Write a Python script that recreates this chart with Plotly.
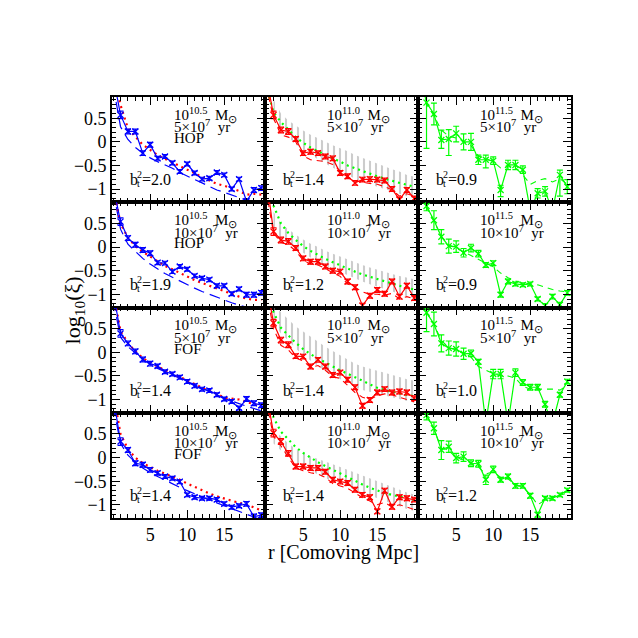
import plotly.graph_objects as go
from plotly.subplots import make_subplots

# ---------------- data ----------------
R = list(range(0, 21))          # comoving separation r [Mpc]
R_BAND = list(range(1, 21))

# column 1 : 10^10.5 Msun (blue data, red dotted = biased DM, blue dashed = DM)
c1_main = [
    [1.4, 0.57, 0.22, 0.22, -0.24, -0.06, -0.35, -0.31, -0.45, -0.63, -0.47, -0.66, -0.79, -0.77, -0.65, -0.70, -1.00, -0.79, -1.26, -1.02, -0.98],
    [1.3, 0.54, 0.19, 0.05, -0.06, -0.13, -0.33, -0.34, -0.52, -0.41, -0.47, -0.61, -0.66, -0.69, -0.82, -0.82, -0.99, -0.89, -1.01, -1.01, -0.97],
    [1.3, 0.40, 0.19, 0.02, -0.15, -0.24, -0.29, -0.41, -0.46, -0.53, -0.62, -0.71, -0.78, -0.81, -0.90, -0.99, -1.04, -1.18, -0.99, -1.08, -1.12],
    [1.3, 0.34, 0.16, -0.12, -0.15, -0.26, -0.33, -0.40, -0.44, -0.51, -0.79, -0.84, -0.86, -0.86, -0.89, -0.98, -1.05, -1.02, -0.98, -1.25, -1.22],
]
c1_err = [0.1, 0.08, 0.05, 0.05, 0.05, 0.05, 0.04, 0.04, 0.04, 0.04, 0.04, 0.04, 0.04, 0.04, 0.04, 0.04, 0.04, 0.04, 0.05, 0.05, 0.05]
c1_dot = [
    [1.5, 0.78, 0.28, 0.10, -0.06, -0.17, -0.28, -0.36, -0.44, -0.52, -0.59, -0.66, -0.75, -0.82, -0.89, -0.93, -0.98, -1.04, -1.12, -1.10, -1.12],
    [1.3, 0.50, 0.20, 0.02, -0.10, -0.20, -0.30, -0.40, -0.47, -0.55, -0.62, -0.70, -0.76, -0.82, -0.88, -0.94, -1.00, -1.05, -1.09, -1.12, -1.12],
    [1.3, 0.45, 0.20, 0.02, -0.12, -0.22, -0.30, -0.38, -0.45, -0.52, -0.60, -0.68, -0.75, -0.82, -0.88, -0.96, -0.98, -1.00, -1.05, -1.10, -1.15],
    [1.4, 0.50, 0.18, 0.00, -0.12, -0.20, -0.28, -0.34, -0.40, -0.47, -0.55, -0.62, -0.70, -0.76, -0.82, -0.87, -0.92, -0.96, -0.99, -1.05, -1.12],
]
c1_dash = [
    [1.2, 0.32, 0.05, -0.12, -0.24, -0.34, -0.42, -0.49, -0.56, -0.65, -0.73, -0.80, -0.87, -0.95, -1.02, -1.07, -1.12, -1.18, -1.24, -1.30, -1.35],
    [1.2, 0.38, 0.06, -0.10, -0.24, -0.36, -0.46, -0.56, -0.64, -0.72, -0.80, -0.87, -0.94, -1.00, -1.07, -1.13, -1.18, -1.23, -1.28, -1.33, -1.36],
    [1.1, 0.32, 0.12, -0.02, -0.15, -0.25, -0.34, -0.41, -0.48, -0.55, -0.62, -0.69, -0.76, -0.84, -0.91, -0.97, -1.03, -1.09, -1.14, -1.19, -1.24],
    [1.1, 0.30, 0.05, -0.10, -0.22, -0.32, -0.40, -0.48, -0.56, -0.63, -0.70, -0.77, -0.84, -0.90, -0.96, -1.02, -1.08, -1.14, -1.20, -1.26, -1.32],
]

# column 2 : 10^11.0 Msun (red data, red dashed, green dotted, grey band)
c2_main = [
    [1.4, 0.57, 0.25, 0.22, 0.06, -0.24, -0.21, -0.24, -0.31, -0.35, -0.66, -0.73, -0.87, -0.80, -0.79, -0.80, -0.82, -1.00, -1.22, -1.02, -1.20],
    [1.5, 0.33, 0.15, 0.12, -0.02, -0.24, -0.31, -0.31, -0.41, -0.50, -0.52, -0.73, -0.85, -1.24, -1.03, -0.91, -0.99, -0.73, -1.05, -0.82, -1.08],
    [1.5, 0.62, 0.26, 0.16, -0.08, -0.09, -0.30, -0.16, -0.30, -0.48, -0.43, -0.58, -0.74, -1.13, -1.01, -0.85, -0.78, -0.85, -0.83, -0.85, -0.97],
    [1.4, 0.52, 0.34, 0.09, -0.19, -0.19, -0.22, -0.22, -0.30, -0.47, -0.51, -0.54, -0.68, -0.79, -0.84, -1.14, -0.70, -1.04, -0.84, -0.86, -0.89],
]
c2_err = [0.1, 0.08, 0.06, 0.06, 0.05, 0.05, 0.05, 0.05, 0.05, 0.05, 0.05, 0.05, 0.05, 0.05, 0.05, 0.05, 0.05, 0.05, 0.05, 0.05, 0.05]
c2_dash = [
    [1.2, 0.50, 0.15, 0.10, 0.00, -0.30, -0.38, -0.40, -0.42, -0.48, -0.62, -0.75, -0.82, -0.86, -0.88, -0.90, -0.95, -1.02, -1.15, -1.10, -1.15],
    [1.2, 0.30, 0.10, 0.05, -0.08, -0.28, -0.36, -0.38, -0.45, -0.55, -0.62, -0.78, -0.85, -0.95, -1.00, -1.00, -1.02, -0.98, -1.10, -1.05, -1.10],
    [1.3, 0.50, 0.15, 0.05, -0.12, -0.18, -0.32, -0.28, -0.38, -0.52, -0.55, -0.70, -0.85, -0.95, -1.00, -0.92, -0.88, -0.90, -0.95, -1.00, -1.05],
    [1.2, 0.45, 0.25, 0.00, -0.22, -0.28, -0.32, -0.35, -0.42, -0.55, -0.60, -0.65, -0.75, -0.85, -0.92, -1.00, -0.95, -1.05, -1.00, -1.05, -1.10],
]
c2_dot = [
    [1.2, 0.62, 0.42, 0.25, 0.10, -0.02, -0.12, -0.20, -0.28, -0.35, -0.42, -0.50, -0.56, -0.62, -0.68, -0.73, -0.78, -0.83, -0.87, -0.91, -0.95],
    [1.5, 0.88, 0.50, 0.30, 0.15, 0.02, -0.08, -0.17, -0.25, -0.32, -0.39, -0.46, -0.52, -0.58, -0.63, -0.68, -0.73, -0.78, -0.82, -0.86, -0.90],
    [1.5, 0.85, 0.52, 0.35, 0.20, 0.07, -0.04, -0.13, -0.22, -0.30, -0.38, -0.45, -0.52, -0.60, -0.68, -0.75, -0.80, -0.84, -0.87, -0.90, -0.93],
    [1.5, 0.85, 0.55, 0.38, 0.22, 0.10, 0.00, -0.10, -0.18, -0.26, -0.34, -0.42, -0.50, -0.57, -0.64, -0.70, -0.75, -0.79, -0.83, -0.87, -0.90],
]
c2_band_hi = [
    [0.90, 0.60, 0.45, 0.34, 0.24, 0.15, 0.07, 0.00, -0.07, -0.13, -0.20, -0.28, -0.34, -0.41, -0.47, -0.53, -0.58, -0.63, -0.70, -0.74],
    [0.75, 0.50, 0.38, 0.26, 0.16, 0.07, 0.00, -0.08, -0.14, -0.20, -0.27, -0.33, -0.38, -0.43, -0.48, -0.53, -0.57, -0.61, -0.65, -0.68],
    [1.00, 0.85, 0.68, 0.55, 0.44, 0.33, 0.22, 0.12, 0.03, -0.06, -0.15, -0.24, -0.30, -0.35, -0.39, -0.43, -0.47, -0.52, -0.57, -0.60],
    [0.60, 0.45, 0.30, 0.18, 0.10, 0.03, -0.03, -0.08, -0.14, -0.20, -0.26, -0.32, -0.38, -0.44, -0.50, -0.57, -0.63, -0.68, -0.74, -0.78],
]
c2_band_lo = [
    [0.45, 0.25, 0.10, -0.05, -0.17, -0.28, -0.37, -0.46, -0.55, -0.62, -0.70, -0.78, -0.84, -0.90, -0.95, -1.00, -1.05, -1.10, -1.16, -1.20],
    [0.40, 0.20, 0.08, -0.02, -0.12, -0.22, -0.32, -0.39, -0.46, -0.53, -0.60, -0.67, -0.73, -0.79, -0.84, -0.90, -0.95, -0.99, -1.04, -1.08],
    [0.60, 0.40, 0.25, 0.08, -0.06, -0.18, -0.30, -0.40, -0.48, -0.57, -0.66, -0.74, -0.80, -0.84, -0.88, -0.92, -0.96, -1.00, -1.04, -1.07],
    [0.30, 0.15, 0.00, -0.12, -0.20, -0.28, -0.36, -0.44, -0.50, -0.56, -0.63, -0.69, -0.75, -0.81, -0.87, -0.93, -0.98, -1.03, -1.09, -1.13],
]

# column 3 : 10^11.5 Msun (green data, green dashed)
c3_main = [
    [1.5, 0.83, 0.59, 0.04, 0.06, 0.18, 0.00, 0.00, -0.38, -0.38, -0.40, -1.02, -0.49, -0.49, -0.59, -1.45, -1.09, -1.05, -1.45, -0.70, -0.95],
    [1.5, 0.87, 0.57, 0.22, 0.02, 0.01, -0.12, -0.02, -0.14, -0.38, -0.34, -1.01, -0.73, -0.78, -0.80, -0.78, -1.10, -1.24, -1.05, -1.22, -0.97],
    [1.5, 0.84, 0.60, 0.19, 0.09, 0.07, -0.03, -0.02, -0.20, -1.50, -0.46, -0.46, -1.50, -0.43, -0.64, -0.74, -0.74, -1.10, -1.50, -0.90, -0.62],
    [1.5, 0.90, 0.62, 0.16, 0.23, -0.01, 0.02, -0.12, -0.13, -0.47, -0.25, -0.47, -0.40, -0.60, -0.60, -0.81, -1.21, -0.86, -0.86, -0.79, -0.69],
]
c3_err_hi = [
    [0.3, 0.3, 0.23, 0.21, 0.20, 0.15, 0.17, 0.18, 0.10, 0.10, 0.08, 0.10, 0.10, 0.10, 0.08, 0.10, 0.10, 0.10, 0.10, 0.10, 0.15],
    [0.2, 0.10, 0.20, 0.15, 0.15, 0.12, 0.09, 0.08, 0.07, 0.05, 0.05, 0.05, 0.05, 0.04, 0.04, 0.04, 0.04, 0.04, 0.05, 0.05, 0.05],
    [0.2, 0.10, 0.25, 0.18, 0.15, 0.15, 0.12, 0.07, 0.05, 0.10, 0.10, 0.10, 0.10, 0.08, 0.06, 0.06, 0.06, 0.06, 0.06, 0.05, 0.05],
    [0.2, 0.10, 0.13, 0.20, 0.12, 0.10, 0.10, 0.07, 0.07, 0.10, 0.07, 0.05, 0.05, 0.05, 0.05, 0.05, 0.05, 0.04, 0.04, 0.04, 0.04],
]
c3_err_lo = [
    [0.3, 0.97, 0.23, 0.18, 0.35, 0.18, 0.17, 0.18, 0.10, 0.17, 0.08, 0.14, 0.10, 0.10, 0.08, 0.10, 0.10, 0.10, 0.10, 0.45, 0.15],
    [0.2, 0.10, 0.20, 0.15, 0.15, 0.12, 0.09, 0.08, 0.07, 0.05, 0.05, 0.05, 0.05, 0.04, 0.04, 0.04, 0.04, 0.04, 0.05, 0.05, 0.05],
    [0.2, 0.40, 0.25, 0.18, 0.15, 0.15, 0.12, 0.07, 0.05, 0.10, 0.10, 0.10, 0.10, 0.08, 0.06, 0.06, 0.06, 0.06, 0.06, 0.05, 0.05],
    [0.2, 0.10, 0.13, 0.20, 0.12, 0.10, 0.10, 0.07, 0.07, 0.10, 0.07, 0.05, 0.05, 0.05, 0.05, 0.05, 0.05, 0.04, 0.04, 0.04, 0.04],
]
c3_dash = [
    [1.3, 0.80, 0.55, 0.25, 0.12, 0.08, 0.00, -0.08, -0.30, -0.35, -0.42, -0.55, -0.50, -0.55, -0.70, -0.90, -0.82, -0.78, -0.85, -0.78, -0.90],
    [1.3, 0.85, 0.55, 0.22, 0.05, -0.02, -0.10, -0.18, -0.26, -0.35, -0.42, -0.55, -0.65, -0.72, -0.76, -0.78, -0.80, -0.85, -0.90, -0.93, -0.95],
    [1.3, 0.85, 0.60, 0.25, 0.10, 0.05, -0.03, -0.10, -0.30, -0.38, -0.45, -0.50, -0.50, -0.55, -0.72, -0.78, -0.78, -0.77, -0.78, -0.80, -0.70],
    [1.3, 0.88, 0.60, 0.20, 0.15, 0.00, -0.05, -0.12, -0.20, -0.35, -0.30, -0.42, -0.45, -0.58, -0.62, -0.78, -1.00, -0.90, -0.85, -0.80, -0.75],
]

col_mass = ["10.5", "11.0", "11.5"]
row_time = ["5", "10", "5", "10"]
col1_finder = ["HOP", "HOP", "FOF", "FOF"]
bias_sq = [
    ["2.0", "1.4", "0.9"],
    ["1.9", "1.2", "0.9"],
    ["1.4", "1.4", "1.0"],
    ["1.4", "1.4", "1.2"],
]
x_tick_labels = [5, 10, 15]
y_tick_labels = [-1, -0.5, 0, 0.5]

X_RANGE = [-0.15, 20.5]
Y_RANGE = [-1.28, 0.95]

BLUE = "#0000ff"
RED = "#ff0000"
GREEN = "#00ff00"
GREY = "#9a9a9a"
FONT = "Liberation Serif"

# ---------------- figure ----------------
fig = make_subplots(rows=4, cols=3, horizontal_spacing=0, vertical_spacing=0)


def data_trace(y, ep, em, color):
    return go.Scatter(
        x=R, y=y, mode="lines+markers",
        line=dict(color=color, width=1.2),
        marker=dict(symbol="x-thin", size=6, line=dict(color=color, width=1.3), color=color),
        error_y=dict(type="data", array=ep, arrayminus=em, color=color, thickness=1.2, width=3),
        showlegend=False, hoverinfo="skip",
    )


for i in range(4):
    row = i + 1
    # column 1
    fig.add_trace(go.Scatter(x=R, y=c1_dash[i], mode="lines",
                             line=dict(color=BLUE, width=1.2, dash="11px,6px"),
                             showlegend=False, hoverinfo="skip"), row=row, col=1)
    fig.add_trace(go.Scatter(x=R, y=c1_dot[i], mode="lines",
                             line=dict(color=RED, width=2.2, dash="2px,4px"),
                             showlegend=False, hoverinfo="skip"), row=row, col=1)
    fig.add_trace(data_trace(c1_main[i], c1_err, c1_err, BLUE), row=row, col=1)

    # column 2
    fig.add_trace(go.Scatter(x=R_BAND, y=c2_band_lo[i], mode="lines", line=dict(width=0),
                             showlegend=False, hoverinfo="skip"), row=row, col=2)
    fig.add_trace(go.Scatter(x=R_BAND, y=c2_band_hi[i], mode="lines", line=dict(width=0),
                             fill="tonexty", fillcolor="rgba(0,0,0,0)",
                             fillpattern=dict(shape="|", fgcolor=GREY, bgcolor="rgba(0,0,0,0)",
                                              size=6, solidity=0.35),
                             showlegend=False, hoverinfo="skip"), row=row, col=2)
    fig.add_trace(go.Scatter(x=R, y=c2_dot[i], mode="lines",
                             line=dict(color=GREEN, width=2.2, dash="2px,4px"),
                             showlegend=False, hoverinfo="skip"), row=row, col=2)
    fig.add_trace(go.Scatter(x=R, y=c2_dash[i], mode="lines",
                             line=dict(color=RED, width=1.1, dash="6px,5px"),
                             showlegend=False, hoverinfo="skip"), row=row, col=2)
    fig.add_trace(data_trace(c2_main[i], c2_err, c2_err, RED), row=row, col=2)

    # column 3
    fig.add_trace(go.Scatter(x=R, y=c3_dash[i], mode="lines",
                             line=dict(color=GREEN, width=1.1, dash="6px,5px"),
                             showlegend=False, hoverinfo="skip"), row=row, col=3)
    fig.add_trace(data_trace(c3_main[i], c3_err_hi[i], c3_err_lo[i], GREEN), row=row, col=3)

# axes
for i in range(4):
    for j in range(3):
        fig.update_xaxes(
            row=i + 1, col=j + 1, range=X_RANGE, tickmode="array", tickvals=x_tick_labels,
            ticks="inside", ticklen=8, tickwidth=1.2, tickcolor="black",
            minor=dict(ticks="inside", dtick=1, tick0=0, ticklen=4, tickwidth=1.1, tickcolor="black"),
            showline=True, linecolor="black", linewidth=1.6, mirror="ticks",
            showgrid=False, zeroline=False,
            showticklabels=(i == 3),
            tickfont=dict(family=FONT, size=18, color="black"),
        )
        fig.update_yaxes(
            row=i + 1, col=j + 1, range=Y_RANGE, tickmode="array", tickvals=y_tick_labels,
            ticks="inside", ticklen=8, tickwidth=1.2, tickcolor="black",
            minor=dict(ticks="inside", dtick=0.1, tick0=0, ticklen=4, tickwidth=1.1, tickcolor="black"),
            showline=True, linecolor="black", linewidth=1.6, mirror="ticks",
            showgrid=False, zeroline=False,
            showticklabels=(j == 0),
            tickfont=dict(family=FONT, size=18, color="black"),
        )

# panel labels
ann = []
for i in range(4):
    for j in range(3):
        k = i * 3 + j + 1
        xr = "x" if k == 1 else f"x{k}"
        yr = "y" if k == 1 else f"y{k}"
        lines = [
            f"10<sup>{col_mass[j]}</sup>  M<sub>⊙</sub>",
            f"{row_time[i]}×10<sup>7</sup>  yr",
        ]
        if j == 0:
            lines.append(col1_finder[i])
        ys = [0.57, 0.33, 0.08]
        for t, yy in zip(lines, ys):
            ann.append(dict(x=8.0, y=yy, xref=xr, yref=yr, text=t, showarrow=False,
                            xanchor="left", yanchor="middle",
                            font=dict(family=FONT, size=15, color="black")))
        # b_t^2 = value
        ann.append(dict(x=2.0, y=-0.80, xref=xr, yref=yr, text="b", showarrow=False,
                        xanchor="left", yanchor="middle",
                        font=dict(family=FONT, size=16, color="black")))
        ann.append(dict(x=2.0, y=-0.80, xref=xr, yref=yr, text="2", showarrow=False,
                        xanchor="left", yanchor="middle", xshift=7, yshift=5,
                        font=dict(family=FONT, size=10, color="black")))
        ann.append(dict(x=2.0, y=-0.80, xref=xr, yref=yr, text="t", showarrow=False,
                        xanchor="left", yanchor="middle", xshift=7, yshift=-4,
                        font=dict(family=FONT, size=10, color="black")))
        ann.append(dict(x=2.0, y=-0.80, xref=xr, yref=yr, text="=" + bias_sq[i][j], showarrow=False,
                        xanchor="left", yanchor="middle", xshift=12,
                        font=dict(family=FONT, size=16, color="black")))

ann.append(dict(x=0.505, y=-0.083, xref="paper", yref="paper", text="r [Comoving Mpc]",
                showarrow=False, xanchor="center", yanchor="middle",
                font=dict(family=FONT, size=20, color="black")))
ann.append(dict(x=-0.082, y=0.494, xref="paper", yref="paper", text="log<sub>10</sub>(ξ)",
                showarrow=False, xanchor="center", yanchor="middle", textangle=-90,
                font=dict(family=FONT, size=22, color="black")))

fig.update_layout(
    width=630, height=620,
    margin=dict(l=104, r=67, t=89, b=110),
    paper_bgcolor="white", plot_bgcolor="white",
    annotations=ann, showlegend=False,
)

fig.write_html("out.html")
